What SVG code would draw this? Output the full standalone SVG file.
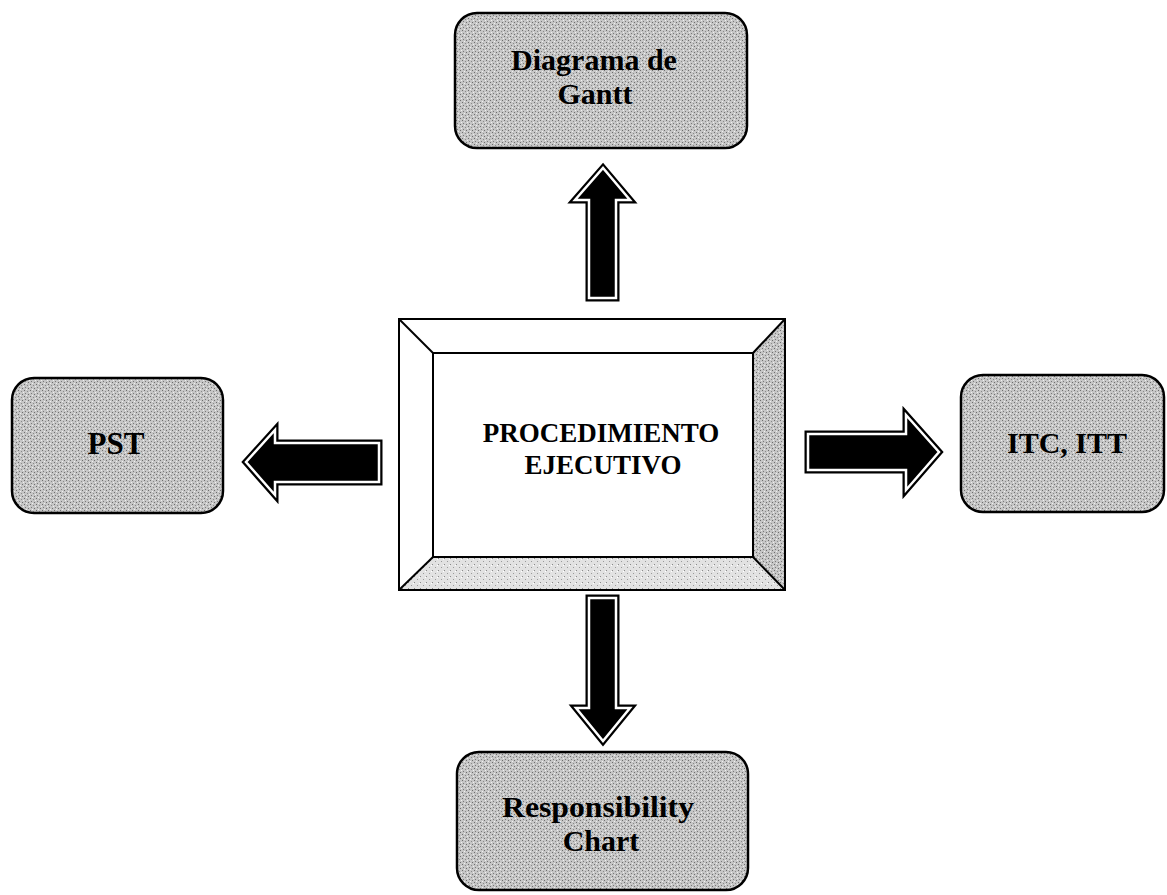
<svg xmlns="http://www.w3.org/2000/svg" width="1167" height="895" viewBox="0 0 1167 895">
<defs>
<pattern id="stip" width="6" height="6" patternUnits="userSpaceOnUse">
<rect width="6" height="6" fill="#c6c6c6"/>
<rect x="0" y="0" width="1" height="1" fill="#6e6e6e"/>
<rect x="3" y="1" width="1" height="1" fill="#8a8a8a"/>
<rect x="1" y="3" width="1" height="1" fill="#7a7a7a"/>
<rect x="4" y="4" width="1" height="1" fill="#6e6e6e"/>
<rect x="5" y="2" width="1" height="1" fill="#f0f0f0"/>
<rect x="2" y="5" width="1" height="1" fill="#f0f0f0"/>
</pattern>
<pattern id="stipLight" width="6" height="6" patternUnits="userSpaceOnUse">
<rect width="6" height="6" fill="#e2e2e2"/>
<rect x="0" y="0" width="1" height="1" fill="#8a8a8a"/>
<rect x="3" y="3" width="1" height="1" fill="#9a9a9a"/>
<rect x="5" y="1" width="1" height="1" fill="#ffffff"/>
</pattern>
</defs>
<style>
.box{fill:url(#stip);stroke:#000;stroke-width:2.5}
.lbl{font-family:"Liberation Serif","Times New Roman",serif;font-weight:bold;fill:#000;text-anchor:middle}
.arrOut{fill:#000;stroke:#000;stroke-width:7;stroke-linejoin:miter}
.arrIn{fill:none;stroke:#fff;stroke-width:2.5;stroke-linejoin:miter}
.edge{fill:none;stroke:#000;stroke-width:2}
</style>

<g id="connectors">
<g id="arrow-up">
<polygon class="arrOut" points="589,298 616,298 616,200 630,200 603,168 575,200 589,200"/>
<polygon class="arrIn" points="589,298 616,298 616,200 630,200 603,168 575,200 589,200"/>
</g>
<g id="arrow-down">
<polygon class="arrOut" points="589,598 616,598 616,708 630,708 603,741 576,708 589,708"/>
<polygon class="arrIn" points="589,598 616,598 616,708 630,708 603,741 576,708 589,708"/>
</g>
<g id="arrow-left">
<polygon class="arrOut" points="379,443 379,482 275,482 275,495 246,462 275,430 275,443"/>
<polygon class="arrIn" points="379,443 379,482 275,482 275,495 246,462 275,430 275,443"/>
</g>
<g id="arrow-right">
<polygon class="arrOut" points="808,434 808,470 906,470 906,490 939,452 906,415 906,434"/>
<polygon class="arrIn" points="808,434 808,470 906,470 906,490 939,452 906,415 906,434"/>
</g>
</g>

<g id="node-center">
<rect x="399" y="319" width="386" height="271" fill="#fff"/>
<polygon points="753,353 785,319 785,590 753,557" fill="url(#stip)"/>
<polygon points="433,557 753,557 785,590 399,590" fill="url(#stipLight)"/>
<rect x="399" y="319" width="386" height="271" class="edge"/>
<rect x="433" y="353" width="320" height="204" class="edge"/>
<line x1="399" y1="319" x2="433" y2="353" class="edge"/>
<line x1="785" y1="319" x2="753" y2="353" class="edge"/>
<line x1="399" y1="590" x2="433" y2="557" class="edge"/>
<line x1="785" y1="590" x2="753" y2="557" class="edge"/>
<text class="lbl" x="601" y="442" font-size="27">PROCEDIMIENTO</text>
<text class="lbl" x="603" y="474" font-size="27">EJECUTIVO</text>
</g>

<g id="node-gantt">
<rect class="box" x="455" y="13" width="292" height="135" rx="22" ry="22"/>
<text class="lbl" x="594" y="70" font-size="30">Diagrama de</text>
<text class="lbl" x="595" y="104" font-size="30">Gantt</text>
</g>

<g id="node-pst">
<rect class="box" x="12" y="378" width="211" height="135" rx="22" ry="22"/>
<text class="lbl" x="116" y="454" font-size="31">PST</text>
</g>

<g id="node-itc">
<rect class="box" x="961" y="375" width="203" height="137" rx="22" ry="22"/>
<text class="lbl" x="1067" y="453" font-size="30">ITC, ITT</text>
</g>

<g id="node-resp">
<rect class="box" x="457" y="752" width="291" height="138" rx="22" ry="22"/>
<text class="lbl" x="598" y="817" font-size="30" textLength="192" lengthAdjust="spacingAndGlyphs">Responsibility</text>
<text class="lbl" x="601" y="851" font-size="30">Chart</text>
</g>
</svg>
